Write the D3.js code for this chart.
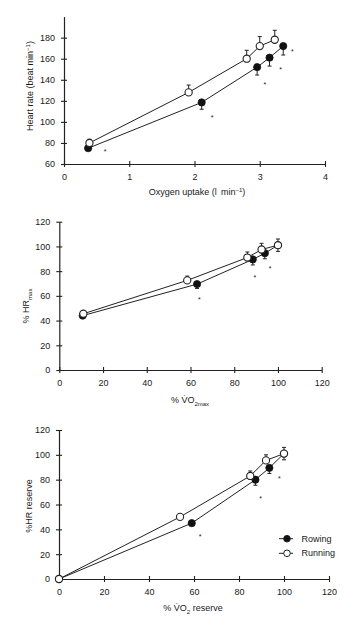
<!DOCTYPE html>
<html>
<head>
<meta charset="utf-8">
<script src="https://cdn.jsdelivr.net/npm/d3@7"></script>
<style>
  html, body { margin: 0; padding: 0; background: #fff; }
  svg { display: block; }
  text { font-family: "Liberation Sans", Arial, Helvetica, sans-serif; fill: #1a1a1a; }
</style>
</head>
<body>
<svg id="chart" width="348" height="624"></svg>
<script>
// Panel A: heart rate vs absolute oxygen uptake
const absRowingX   = [0.37, 2.11, 2.96, 3.15, 3.36];
const absRowingY   = [75, 118.5, 152, 161, 172];
const absRowingErr = [0, 6.5, 7.5, 8, 8.5];
const absRunningX   = [0.39, 1.91, 2.80, 3.00, 3.23];
const absRunningY   = [80, 128, 160, 172, 178];
const absRunningErr = [3.5, 7, 8, 9, 9];
const absSigX = [0.63, 2.27, 3.08, 3.32, 3.50];
const absSigY = [73, 105.5, 136.5, 151, 168];
const absXTicks = [0, 1, 2, 3, 4];
const absYTicks = [60, 80, 100, 120, 140, 160, 180];

// Panel B: %HRmax vs %VO2max
const pctRowingX   = [10.7, 63, 88.5, 94, 100];
const pctRowingY   = [44, 69.5, 89.5, 94.5, 101];
const pctRowingErr = [0, 3.5, 4.5, 4.5, 5];
const pctRunningX   = [11, 58.5, 86, 92.5, 100];
const pctRunningY   = [45.5, 72.5, 91, 97.5, 101];
const pctRunningErr = [0, 3.5, 4.5, 5, 5];
const pctSigX = [64, 89.4, 96.4];
const pctSigY = [58.5, 76, 83.3];

// Panel C: %HR reserve vs %VO2 reserve
const resRowingX   = [0, 59, 87.3, 93.5, 100];
const resRowingY   = [0, 45, 80, 89.5, 101];
const resRowingErr = [0, 0, 4.5, 4.5, 5];
const resRunningX   = [0, 53.8, 85, 92, 100];
const resRunningY   = [0, 50, 83, 95.5, 101];
const resRunningErr = [0, 0, 4, 4.5, 5];
const resSigX = [62.7, 89.6, 97.9];
const resSigY = [35.4, 66.3, 82.1];

const pctTicks = [0, 20, 40, 60, 80, 100, 120];
const legendLabels = ["Rowing", "Running"];

const svg = d3.select("#chart");
const ink = "#222";
const fontSize = 9;

function zip(xs, ys, es) { return xs.map((x, i) => ({ x, y: ys[i], e: es ? es[i] : 0 })); }

function panel(cfg) {
  const g = svg.append("g");
  const x = d3.scaleLinear().domain(cfg.xDomain).range(cfg.xRange);
  const y = d3.scaleLinear().domain(cfg.yDomain).range(cfg.yRange);

  // x axis with ticks crossing the line
  const xa = g.append("g")
    .attr("transform", `translate(0,${cfg.yRange[0]})`)
    .call(d3.axisBottom(x).tickValues(cfg.xTicks).tickSize(0).tickSizeOuter(0).tickPadding(10).tickFormat(d3.format("d")));
  xa.select(".domain").attr("stroke", ink).attr("stroke-width", 1.2);
  xa.selectAll(".tick line").attr("y1", -3).attr("y2", 3).attr("stroke", ink).attr("stroke-width", 1.1);
  xa.selectAll(".tick text").attr("font-size", fontSize);

  // y axis with ticks crossing the line
  const ya = g.append("g")
    .attr("transform", `translate(${cfg.xRange[0]},0)`)
    .call(d3.axisLeft(y).tickValues(cfg.yTicks).tickSize(0).tickSizeOuter(0).tickPadding(9).tickFormat(d3.format("d")));
  ya.select(".domain").attr("stroke", ink).attr("stroke-width", 1.2);
  ya.selectAll(".tick line").attr("x1", -3).attr("x2", 3).attr("stroke", ink).attr("stroke-width", 1.1);
  ya.selectAll(".tick text").attr("font-size", fontSize);
  g.selectAll(".tick text").attr("fill", "#1a1a1a");
  g.selectAll("g").attr("font-family", null).attr("font-size", null);

  const line = d3.line().x(d => x(d.x)).y(d => y(d.y));
  const rowing = zip(cfg.rowX, cfg.rowY, cfg.rowE);
  const running = zip(cfg.runX, cfg.runY, cfg.runE);

  g.append("path").datum(rowing).attr("d", line).attr("fill", "none").attr("stroke", ink).attr("stroke-width", 1);
  g.append("path").datum(running).attr("d", line).attr("fill", "none").attr("stroke", ink).attr("stroke-width", 1);

  // error bars: rowing downward, running upward
  function bars(data, dir) {
    const eb = g.append("g").attr("stroke", ink).attr("stroke-width", 1);
    const sel = data.filter(d => d.e > 0);
    eb.selectAll("line.v").data(sel).join("line")
      .attr("x1", d => x(d.x)).attr("x2", d => x(d.x))
      .attr("y1", d => y(d.y)).attr("y2", d => y(d.y + dir * d.e));
    eb.selectAll("line.c").data(sel).join("line")
      .attr("x1", d => x(d.x) - 2).attr("x2", d => x(d.x) + 2)
      .attr("y1", d => y(d.y + dir * d.e)).attr("y2", d => y(d.y + dir * d.e));
  }
  bars(rowing, -1);
  bars(running, 1);

  g.append("g").selectAll("circle").data(rowing).join("circle")
    .attr("cx", d => x(d.x)).attr("cy", d => y(d.y)).attr("r", 3.6)
    .attr("fill", "#111").attr("stroke", "#111").attr("stroke-width", 0.8);
  g.append("g").selectAll("circle").data(running).join("circle")
    .attr("cx", d => x(d.x)).attr("cy", d => y(d.y)).attr("r", 3.6)
    .attr("fill", "#fff").attr("stroke", ink).attr("stroke-width", 1.1);

  // significance markers
  g.append("g").selectAll("text").data(zip(cfg.sigX, cfg.sigY)).join("text")
    .attr("x", d => x(d.x)).attr("y", d => y(d.y))
    .attr("dy", "0.55em").attr("text-anchor", "middle")
    .attr("font-size", 7).attr("fill", "#444").text("*");

  return { g, x, y };
}

// Panel A
panel({
  xDomain: [0, 4], xRange: [64, 325],
  yDomain: [60, 200], yRange: [164, 16.6],
  xTicks: absXTicks, yTicks: absYTicks,
  rowX: absRowingX, rowY: absRowingY, rowE: absRowingErr,
  runX: absRunningX, runY: absRunningY, runE: absRunningErr,
  sigX: absSigX, sigY: absSigY
});
{
  const t = svg.append("text").attr("x", 197).attr("y", 195).attr("text-anchor", "middle").attr("font-size", fontSize);
  t.append("tspan").text("Oxygen uptake (l\u2009 min");
  t.append("tspan").attr("dy", -3.5).attr("font-size", 6).text("\u22121");
  t.append("tspan").attr("dy", 3.5).text(")");
  const ty = svg.append("text").attr("transform", "translate(33,86) rotate(-90)").attr("text-anchor", "middle").attr("font-size", fontSize);
  ty.append("tspan").text("Heart rate (beat min");
  ty.append("tspan").attr("dy", -3.5).attr("font-size", 6).text("\u22121");
  ty.append("tspan").attr("dy", 3.5).text(")");
}

// Panel B
panel({
  xDomain: [0, 120], xRange: [59.3, 321.7],
  yDomain: [0, 120], yRange: [370, 221.7],
  xTicks: pctTicks, yTicks: pctTicks,
  rowX: pctRowingX, rowY: pctRowingY, rowE: pctRowingErr,
  runX: pctRunningX, runY: pctRunningY, runE: pctRunningErr,
  sigX: pctSigX, sigY: pctSigY
});
{
  const t = svg.append("text").attr("x", 190).attr("y", 403).attr("text-anchor", "middle").attr("font-size", fontSize);
  t.append("tspan").text("% V\u0307O");
  t.append("tspan").attr("dy", 2.5).attr("font-size", 6).text("2max");
  const ty = svg.append("text").attr("transform", "translate(29,306) rotate(-90)").attr("text-anchor", "middle").attr("font-size", fontSize);
  ty.append("tspan").text("% HR");
  ty.append("tspan").attr("dy", 2.5).attr("font-size", 6).text("max");
}

// Panel C
panel({
  xDomain: [0, 120], xRange: [59, 329],
  yDomain: [0, 120], yRange: [579, 430],
  xTicks: pctTicks, yTicks: pctTicks,
  rowX: resRowingX, rowY: resRowingY, rowE: resRowingErr,
  runX: resRunningX, runY: resRunningY, runE: resRunningErr,
  sigX: resSigX, sigY: resSigY
});
{
  const t = svg.append("text").attr("x", 193).attr("y", 611).attr("text-anchor", "middle").attr("font-size", fontSize);
  t.append("tspan").text("% V\u0307O");
  t.append("tspan").attr("dy", 2.5).attr("font-size", 6).text("2");
  t.append("tspan").attr("dy", -2.5).text(" reserve");
  svg.append("text").attr("transform", "translate(32,506) rotate(-90)").attr("text-anchor", "middle")
    .attr("font-size", fontSize).text("%HR reserve");
}

// Legend
const legend = svg.append("g").attr("transform", "translate(279,538.7)");
legendLabels.forEach((name, i) => {
  const row = legend.append("g").attr("transform", `translate(0,${i * 14.6})`);
  row.append("line").attr("x1", 0).attr("x2", 14).attr("stroke", ink).attr("stroke-width", 1);
  row.append("circle").attr("cx", 8).attr("r", 3.3)
    .attr("fill", i === 0 ? "#111" : "#fff").attr("stroke", ink).attr("stroke-width", 1);
  row.append("text").attr("x", 22.5).attr("dy", "0.35em").attr("font-size", fontSize).text(name);
});
</script>
</body>
</html>
